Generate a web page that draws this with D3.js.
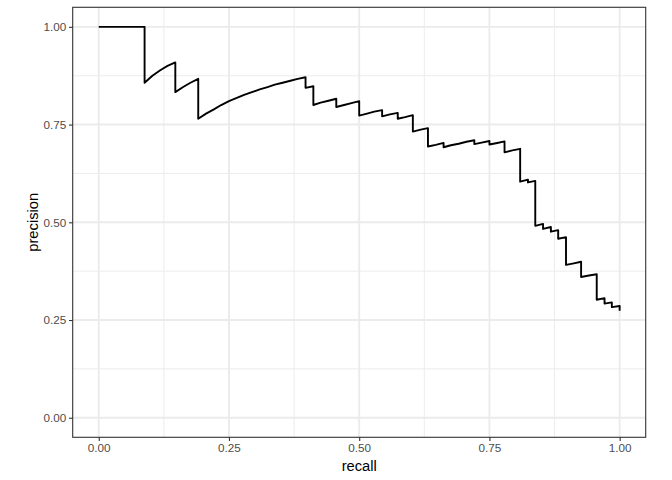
<!DOCTYPE html>
<html>
<head>
<meta charset="utf-8">
<script src="https://cdn.jsdelivr.net/npm/d3@7"></script>
<style>
  html, body { margin: 0; padding: 0; background: #fff; }
  svg { display: block; }
</style>
</head>
<body>
<script>
// Data (precision-recall curve, path order)
const recall = [0, 0.088, 0.088, 0.103, 0.118, 0.132, 0.147, 0.147, 0.162, 0.176,
  0.191, 0.191, 0.206, 0.221, 0.235, 0.25, 0.265, 0.279, 0.294, 0.309,
  0.324, 0.338, 0.353, 0.368, 0.382, 0.397, 0.397, 0.412, 0.412, 0.426,
  0.441, 0.456, 0.456, 0.471, 0.485, 0.5, 0.5, 0.515, 0.529, 0.544,
  0.544, 0.559, 0.574, 0.574, 0.588, 0.603, 0.603, 0.618, 0.632, 0.632,
  0.647, 0.662, 0.662, 0.676, 0.691, 0.706, 0.721, 0.721, 0.735, 0.75,
  0.75, 0.765, 0.779, 0.779, 0.794, 0.809, 0.809, 0.824, 0.824, 0.838,
  0.838, 0.853, 0.853, 0.868, 0.868, 0.882, 0.882, 0.897, 0.897, 0.912,
  0.926, 0.926, 0.941, 0.956, 0.956, 0.971, 0.971, 0.985, 0.985, 1.0, 1.0];
const precision = [1, 1, 0.857, 0.875, 0.889, 0.9, 0.909, 0.833, 0.846, 0.857,
  0.867, 0.765, 0.778, 0.789, 0.8, 0.81, 0.818, 0.826, 0.833, 0.84,
  0.846, 0.852, 0.857, 0.862, 0.867, 0.871, 0.844, 0.848, 0.8, 0.806,
  0.811, 0.816, 0.795, 0.8, 0.805, 0.81, 0.773, 0.778, 0.783, 0.787,
  0.771, 0.776, 0.78, 0.765, 0.769, 0.774, 0.732, 0.737, 0.741, 0.694,
  0.698, 0.703, 0.692, 0.697, 0.701, 0.706, 0.71, 0.7, 0.704, 0.708,
  0.699, 0.703, 0.707, 0.679, 0.684, 0.688, 0.604, 0.609, 0.602, 0.606,
  0.491, 0.496, 0.483, 0.488, 0.476, 0.48, 0.458, 0.462, 0.391, 0.395,
  0.399, 0.36, 0.364, 0.367, 0.302, 0.306, 0.292, 0.295, 0.283, 0.286, 0.274];
const majorTicks = [0, 0.25, 0.5, 0.75, 1];
const minorTicks = [0.125, 0.375, 0.625, 0.875];
const tickLabels = ["0.00", "0.25", "0.50", "0.75", "1.00"];
const xTitle = "recall";
const yTitle = "precision";

const W = 672, H = 480;
const panel = { left: 72.7, right: 645.7, top: 7.3, bottom: 437.3 };
const font = "'Liberation Sans', Arial, Helvetica, sans-serif";

const svg = d3.select("body").append("svg").attr("width", W).attr("height", H);

const x = d3.scaleLinear().domain([-0.05, 1.05]).range([panel.left, panel.right]);
const y = d3.scaleLinear().domain([-0.05, 1.05]).range([panel.bottom, panel.top]);

// Panel background
svg.append("rect")
  .attr("x", panel.left).attr("y", panel.top)
  .attr("width", panel.right - panel.left).attr("height", panel.bottom - panel.top)
  .attr("fill", "#ffffff");

const grid = svg.append("g");
// minor grid
grid.selectAll(".vminor").data(minorTicks).join("line")
  .attr("x1", d => x(d)).attr("x2", d => x(d))
  .attr("y1", panel.top).attr("y2", panel.bottom)
  .attr("stroke", "#ebebeb").attr("stroke-width", 0.95);
grid.selectAll(".hminor").data(minorTicks).join("line")
  .attr("y1", d => y(d)).attr("y2", d => y(d))
  .attr("x1", panel.left).attr("x2", panel.right)
  .attr("stroke", "#ebebeb").attr("stroke-width", 0.95);
// major grid
grid.selectAll(".vmajor").data(majorTicks).join("line")
  .attr("x1", d => x(d)).attr("x2", d => x(d))
  .attr("y1", panel.top).attr("y2", panel.bottom)
  .attr("stroke", "#ebebeb").attr("stroke-width", 1.9);
grid.selectAll(".hmajor").data(majorTicks).join("line")
  .attr("y1", d => y(d)).attr("y2", d => y(d))
  .attr("x1", panel.left).attr("x2", panel.right)
  .attr("stroke", "#ebebeb").attr("stroke-width", 1.9);

// Curve
const pts = recall.map((r, i) => [r, precision[i]]);
const line = d3.line().x(d => x(d[0])).y(d => y(d[1]));
svg.append("path")
  .datum(pts)
  .attr("d", line)
  .attr("fill", "none")
  .attr("stroke", "#000000")
  .attr("stroke-width", 1.9)
  .attr("stroke-linejoin", "round")
  .attr("stroke-linecap", "butt");

// Panel border
svg.append("rect")
  .attr("x", panel.left).attr("y", panel.top)
  .attr("width", panel.right - panel.left).attr("height", panel.bottom - panel.top)
  .attr("fill", "none").attr("stroke", "#333333").attr("stroke-width", 1.1);

// Axes
const fmt = (d, i) => tickLabels[i];
const xAxis = d3.axisBottom(x).tickValues(majorTicks).tickFormat(fmt).tickSize(3.67).tickPadding(2.9);
const yAxis = d3.axisLeft(y).tickValues(majorTicks).tickFormat(fmt).tickSize(3.67).tickPadding(2.9);

const gx = svg.append("g").attr("transform", `translate(0,${panel.bottom})`).call(xAxis);
const gy = svg.append("g").attr("transform", `translate(${panel.left},0)`).call(yAxis);
[gx, gy].forEach(g => {
  g.select(".domain").remove();
  g.selectAll(".tick line").attr("stroke", "#333333").attr("stroke-width", 1.1);
  g.selectAll(".tick text").attr("fill", "#4d4d4d")
    .style("font-family", font).style("font-size", "11.7px");
});

// Axis titles
svg.append("text")
  .attr("x", (panel.left + panel.right) / 2).attr("y", 471)
  .attr("text-anchor", "middle")
  .style("font-family", font).style("font-size", "14.7px").attr("fill", "#000")
  .text(xTitle);
svg.append("text")
  .attr("transform", `translate(38,${(panel.top + panel.bottom) / 2}) rotate(-90)`)
  .attr("text-anchor", "middle")
  .style("font-family", font).style("font-size", "14.7px").attr("fill", "#000")
  .text(yTitle);
</script>
</body>
</html>
